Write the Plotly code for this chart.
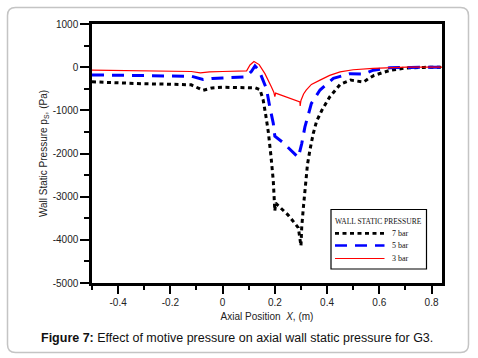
import plotly.graph_objects as go

# ---- data ----
x_7bar = [-0.5, -0.4, -0.3, -0.2, -0.12, -0.075, -0.04, 0.0, 0.05, 0.1, 0.125, 0.143,
          0.155, 0.165, 0.175, 0.185, 0.194, 0.2, 0.203, 0.25, 0.29, 0.3,
          0.303, 0.31, 0.318, 0.325, 0.335, 0.347, 0.36, 0.38, 0.41, 0.45, 0.49,
          0.52, 0.54, 0.56, 0.58, 0.64, 0.7, 0.77, 0.84]
y_7bar = [-340, -370, -385, -395, -410, -535, -480, -465, -470, -475, -480, -520,
          -750, -1100, -1500, -2050, -2630, -3330, -3150, -3420, -3720, -4140,
          -3700, -3200, -2700, -2250, -1900, -1540, -1250, -1000, -690, -400, -300,
          -330, -345, -260, -190, -75, -20, -5, 0]

x_5bar = [-0.5, -0.3, -0.2, -0.12, -0.075, -0.04, 0.0, 0.05, 0.09, 0.11, 0.124, 0.14,
          0.155, 0.168, 0.18, 0.194, 0.2, 0.23, 0.29, 0.303, 0.315, 0.34, 0.373,
          0.424, 0.488, 0.54, 0.577, 0.64, 0.72, 0.84]
y_5bar = [-180, -195, -200, -210, -285, -260, -250, -240, -225, -100, 30, -80,
          -300, -500, -900, -1300, -1600, -1740, -2090, -1770, -1390, -840, -530,
          -260, -150, -160, -70, -15, -5, 0]

x_3bar = [-0.5, -0.3, -0.2, -0.12, -0.085, -0.05, 0.0, 0.05, 0.092, 0.105, 0.12, 0.14,
          0.162, 0.187, 0.196, 0.2, 0.203, 0.296, 0.297, 0.3, 0.31, 0.32, 0.34,
          0.373, 0.41, 0.45, 0.5, 0.576, 0.705, 0.84]
y_3bar = [-70, -80, -90, -100, -130, -110, -100, -95, -85, 50, 130, 60,
          -150, -460, -580, -680, -600, -805, -900, -770, -620, -530, -400,
          -300, -190, -110, -60, -30, 0, 0]

series_names = ["7 bar", "5 bar", "3 bar"]
legend_title = "WALL STATIC PRESSURE"

x_tickvals = [-0.4, -0.2, 0, 0.2, 0.4, 0.6, 0.8]
x_ticktext = ["-0.4", "-0.2", "0", "0.2", "0.4", "0.6", "0.8"]
y_tickvals = [1000, 0, -1000, -2000, -3000, -4000, -5000]
y_ticktext = ["1000", "0", "-1000", "-2000", "-3000", "-4000", "-5000"]

# ---- figure ----
W, H = 478, 358
ML, MR, MT, MB = 92, 36, 24, 75
PW, PH = W - ML - MR, H - MT - MB


def fx(px):
    return (px - ML) / PW


def fy(py):
    return (H - MB - py) / PH


styles = [dict(color="#000000", width=3, dash="4px,3.5px"),
          dict(color="#0000ff", width=3, dash="12px,8px"),
          dict(color="#ff0000", width=1.2)]

fig = go.Figure()
for name, xs, ys, st in zip(series_names, [x_7bar, x_5bar, x_3bar],
                            [y_7bar, y_5bar, y_3bar], styles):
    fig.add_trace(go.Scatter(x=xs, y=ys, mode="lines", name=name, line=st,
                             showlegend=False))

axis_font = dict(family="Liberation Sans, Arial", size=10, color="#222")

fig.update_xaxes(range=[-0.5, 0.84], tickvals=x_tickvals, ticktext=x_ticktext,
                 showgrid=False, zeroline=False, showline=True, linecolor="black",
                 linewidth=2.5, mirror=True, ticks="outside", ticklen=8, tickwidth=2,
                 tickcolor="black", tickfont=axis_font,
                 minor=dict(dtick=0.1, tick0=0, ticks="outside", ticklen=4, tickwidth=2,
                            tickcolor="black", showgrid=False),
                 title=dict(text="Axial Position  <i>X</i>, (m)", font=axis_font, standoff=7))
fig.update_yaxes(range=[-5000, 1000], tickvals=y_tickvals, ticktext=y_ticktext,
                 showgrid=False, zeroline=False, showline=True, linecolor="black",
                 linewidth=2.5, mirror=True, ticks="outside", ticklen=9, tickwidth=2,
                 tickcolor="black", tickfont=axis_font,
                 minor=dict(dtick=500, tick0=0, ticks="outside", ticklen=5, tickwidth=2,
                            tickcolor="black", showgrid=False),
                 title=dict(text="Wall Static Pressure p<sub>S</sub>, (Pa)", font=axis_font,
                            standoff=4))

# rounded frame around the whole figure
x0, x1, y0, y1, r = 7.5, 468.5, 7.5, 352.5, 8
rx, ry = r / PW, r / PH
path = (f"M {fx(x0)+rx},{fy(y0)} L {fx(x1)-rx},{fy(y0)} Q {fx(x1)},{fy(y0)} {fx(x1)},{fy(y0)-ry} "
        f"L {fx(x1)},{fy(y1)+ry} Q {fx(x1)},{fy(y1)} {fx(x1)-rx},{fy(y1)} "
        f"L {fx(x0)+rx},{fy(y1)} Q {fx(x0)},{fy(y1)} {fx(x0)},{fy(y1)+ry} "
        f"L {fx(x0)},{fy(y0)-ry} Q {fx(x0)},{fy(y0)} {fx(x0)+rx},{fy(y0)} Z")
fig.add_shape(type="path", path=path, xref="paper", yref="paper",
              line=dict(color="#c4c4c4", width=1.5), layer="below")

# legend box (drawn as in the reference)
serif = "Liberation Serif, Times New Roman"
fig.add_shape(type="rect", xref="paper", yref="paper",
              x0=fx(331), x1=fx(426.5), y0=fy(209.5), y1=fy(269),
              line=dict(color="black", width=1.2), fillcolor="white", layer="above")
fig.add_annotation(text=legend_title, xref="paper", yref="paper", x=fx(378), y=fy(221.5),
                   xanchor="center", yanchor="middle", showarrow=False,
                   font=dict(family=serif, size=7.5, color="#111"))
for i, (name, st) in enumerate(zip(series_names, styles)):
    ly = [233.3, 245.5, 258.5][i]
    fig.add_shape(type="line", xref="paper", yref="paper",
                  x0=fx(335), x1=fx(384.5), y0=fy(ly), y1=fy(ly),
                  line=dict(color=st["color"], width=st["width"] * (0.9 if i < 2 else 1),
                            dash=st.get("dash", "solid")), layer="above")
    fig.add_annotation(text=name, xref="paper", yref="paper", x=fx(390), y=fy(ly),
                       xanchor="left", yanchor="middle", showarrow=False,
                       font=dict(family=serif, size=8, color="#111"))

fig.add_annotation(text="<b>Figure 7:</b> Effect of motive pressure on axial wall static pressure for G3.",
                   xref="paper", yref="paper", x=fx(38.5), y=fy(338), xanchor="left",
                   yanchor="middle", showarrow=False,
                   font=dict(family="Liberation Sans, Arial", size=12.5, color="#111"))

fig.update_layout(
    width=W, height=H,
    margin=dict(l=ML, r=MR, t=MT, b=MB, autoexpand=False),
    paper_bgcolor="white", plot_bgcolor="white",
    showlegend=False,
)

fig.write_html("out.html", config={"displayModeBar": False},
               post_script="document.body.style.margin='0px';")
